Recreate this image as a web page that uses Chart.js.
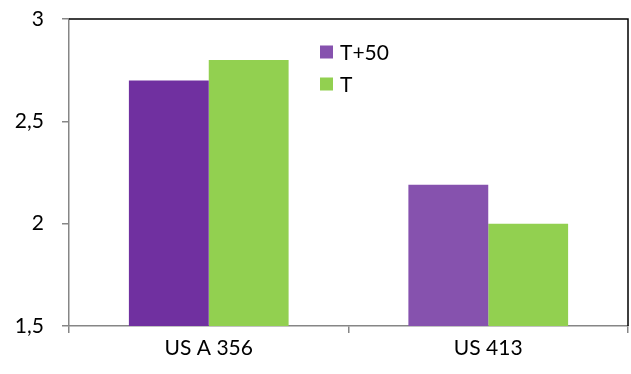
<!DOCTYPE html>
<html>
<head>
<meta charset="UTF-8">
<title>US A 356 / US 413</title>
<script src="https://cdn.jsdelivr.net/npm/chart.js"></script>
<style>
    html, body { margin: 0; padding: 0; background: #fff; }
    #wrap { width: 631px; height: 374px; position: relative; }
</style>
</head>
<body>
<div id="wrap"><canvas id="chart"></canvas></div>
<script>
    // data
    const categories = ['US A 356', 'US 413'];
    const seriesNames = ['T+50', 'T'];
    const valuesT50 = [2.70, 2.19];
    const valuesT = [2.80, 2.00];
    const yTicks = [1.5, 2, 2.5, 3];

    const purple = ['#7030A0', '#8652AE'];
    const green = '#92D050';
    const axisGray = '#868686';
    const fontFamily = 'Lato, "Open Sans", sans-serif';

    // black frame on top and right, as in the original
    const framePlugin = {
        id: 'frame',
        afterDatasetsDraw(chart) {
            const a = chart.chartArea, ctx = chart.ctx;
            ctx.save();
            ctx.strokeStyle = '#000';
            ctx.lineWidth = 1.5;
            ctx.beginPath();
            ctx.moveTo(a.left, a.top);
            ctx.lineTo(a.right, a.top);
            ctx.lineTo(a.right, a.bottom);
            ctx.stroke();
            ctx.restore();
        }
    };

    // legend inside the plot area
    const legendPlugin = {
        id: 'innerLegend',
        afterDraw(chart) {
            const ctx = chart.ctx;
            const x = 320, y0 = 52, step = 32, box = 13;
            ctx.save();
            ctx.font = '21px ' + fontFamily;
            ctx.textBaseline = 'middle';
            chart.data.datasets.forEach((ds, i) => {
                const y = y0 + i * step;
                const col = Array.isArray(ds.backgroundColor) ? ds.backgroundColor[ds.backgroundColor.length - 1] : ds.backgroundColor;
                ctx.fillStyle = col;
                ctx.fillRect(x, y - box / 2, box, box);
                ctx.fillStyle = '#000';
                ctx.fillText(ds.label, x + 20, y + 1);
            });
            ctx.restore();
        }
    };

    new Chart(document.getElementById('chart'), {
        type: 'bar',
        data: {
            labels: categories,
            datasets: [
                { label: seriesNames[0], data: valuesT50, backgroundColor: purple },
                { label: seriesNames[1], data: valuesT, backgroundColor: green }
            ]
        },
        options: {
            responsive: true,
            maintainAspectRatio: false,
            animation: false,
            layout: { padding: { top: 19, right: 3, left: 0, bottom: 0 } },
            datasets: { bar: { categoryPercentage: 2 / 3.5, barPercentage: 1, borderWidth: 0 } },
            plugins: { legend: { display: false }, tooltip: { enabled: false } },
            scales: {
                x: {
                    offset: true,
                    grid: { offset: true, drawOnChartArea: false, tickLength: 7, color: axisGray, lineWidth: 1.5 },
                    border: { color: axisGray, width: 1.5 },
                    ticks: { color: '#000', font: { family: fontFamily, size: 21 }, padding: 3 },
                    afterFit(s) { s.height = 48; }
                },
                y: {
                    min: yTicks[0],
                    max: yTicks[yTicks.length - 1],
                    afterBuildTicks(s) { s.ticks = yTicks.map(v => ({ value: v })); },
                    grid: { drawOnChartArea: false, tickLength: 7, color: axisGray, lineWidth: 1.5 },
                    border: { color: axisGray, width: 1.5 },
                    ticks: {
                        color: '#000',
                        font: { family: fontFamily, size: 21 },
                        padding: 18,
                        callback: v => String(v).replace('.', ',')
                    },
                    afterFit(s) { s.width = 69; s.paddingTop = 0; s.paddingBottom = 0; }
                }
            }
        },
        plugins: [framePlugin, legendPlugin]
    });
</script>
</body>
</html>
